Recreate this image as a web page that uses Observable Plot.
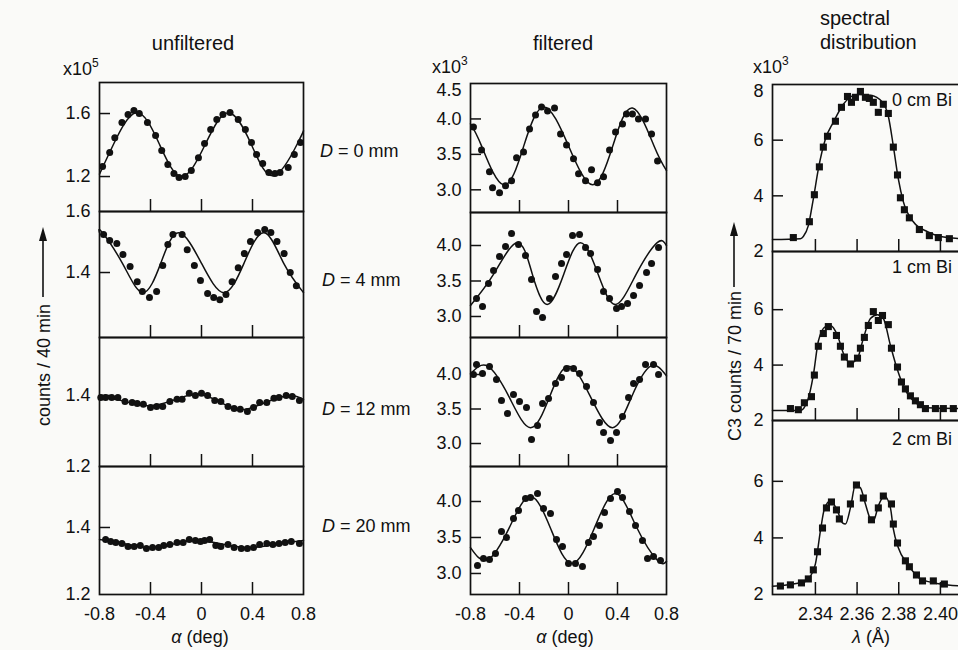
<!DOCTYPE html>
<html>
<head>
<meta charset="utf-8">
<script src="https://cdn.jsdelivr.net/npm/d3@7"></script>
<script src="https://cdn.jsdelivr.net/npm/@observablehq/plot@0.6"></script>
<style>
  html, body { margin: 0; padding: 0; background: #fafaf8; overflow: hidden; }
  #fig { position: relative; width: 958px; height: 650px; overflow: hidden; background: #fafaf8; }
  #fig svg { overflow: visible; }
</style>
</head>
<body>
<div id="fig"></div>
<script>
// ---- axis ticks ----
const alphaTicks = [-0.4, 0, 0.4];
const alphaLabels = [-0.8, -0.4, 0, 0.4, 0.8];
const lambdaTicks = [2.34, 2.36, 2.38, 2.40];

// ---- panel captions ----
const distances = ["0", "4", "12", "20"];          // D in mm
const bismuth = ["0 cm Bi", "1 cm Bi", "2 cm Bi"];

// ---- unfiltered counts (x10^5) vs alpha (deg): measured points ----
const unfiltered0 = [[-0.776,1.263],[-0.72,1.352],[-0.68,1.447],[-0.624,1.543],[-0.576,1.594],[-0.53,1.62],[-0.488,1.60],[-0.424,1.543],[-0.36,1.46],[-0.312,1.365],[-0.264,1.276],[-0.216,1.219],[-0.176,1.194],[-0.128,1.20],[-0.08,1.238],[-0.024,1.32],[0.024,1.41],[0.072,1.498],[0.12,1.562],[0.168,1.594],[0.224,1.606],[0.288,1.562],[0.344,1.498],[0.392,1.416],[0.432,1.34],[0.48,1.283],[0.528,1.225],[0.576,1.219],[0.616,1.225],[0.68,1.257],[0.728,1.34],[0.776,1.416]];
const unfiltered4 = [[-0.768,1.525],[-0.72,1.505],[-0.664,1.495],[-0.616,1.459],[-0.56,1.42],[-0.504,1.37],[-0.464,1.338],[-0.408,1.318],[-0.352,1.338],[-0.304,1.423],[-0.264,1.492],[-0.224,1.525],[-0.152,1.525],[-0.112,1.475],[-0.056,1.423],[-0.008,1.374],[0.048,1.331],[0.096,1.318],[0.144,1.311],[0.192,1.328],[0.24,1.37],[0.288,1.416],[0.336,1.462],[0.384,1.502],[0.44,1.531],[0.496,1.541],[0.544,1.531],[0.592,1.502],[0.648,1.462],[0.696,1.40],[0.744,1.357]];
const unfiltered12 = [[-0.79,1.394],[-0.752,1.394],[-0.704,1.394],[-0.656,1.394],[-0.6,1.383],[-0.544,1.38],[-0.504,1.377],[-0.456,1.375],[-0.4,1.366],[-0.352,1.369],[-0.304,1.369],[-0.248,1.383],[-0.192,1.389],[-0.152,1.389],[-0.096,1.406],[-0.048,1.40],[0.0,1.406],[0.048,1.40],[0.104,1.386],[0.152,1.383],[0.208,1.369],[0.256,1.363],[0.304,1.361],[0.36,1.355],[0.408,1.366],[0.456,1.38],[0.512,1.38],[0.568,1.392],[0.608,1.394],[0.664,1.40],[0.712,1.397],[0.768,1.386]];
const unfiltered20 = [[-0.752,1.364],[-0.712,1.358],[-0.672,1.355],[-0.624,1.352],[-0.576,1.343],[-0.528,1.343],[-0.48,1.346],[-0.432,1.337],[-0.384,1.34],[-0.336,1.34],[-0.296,1.346],[-0.248,1.349],[-0.192,1.355],[-0.144,1.355],[-0.096,1.364],[-0.048,1.361],[-0.008,1.358],[0.024,1.361],[0.064,1.364],[0.112,1.346],[0.152,1.343],[0.208,1.349],[0.256,1.34],[0.312,1.337],[0.36,1.337],[0.408,1.34],[0.456,1.349],[0.512,1.352],[0.56,1.349],[0.608,1.352],[0.656,1.355],[0.704,1.358],[0.768,1.352]];

// ---- unfiltered fitted curves ----
const unfilteredFit0 = [[-0.8,1.215],[-0.69,1.405],[-0.51,1.605],[-0.33,1.405],[-0.155,1.20],[0.03,1.405],[0.21,1.605],[0.39,1.405],[0.565,1.205],[0.75,1.405],[0.8,1.49]];
const unfilteredFit4 = [[-0.8,1.531],[-0.78,1.532],[-0.62,1.43],[-0.46,1.334],[-0.32,1.43],[-0.18,1.53],[0.0,1.43],[0.176,1.334],[0.333,1.43],[0.49,1.53],[0.645,1.43],[0.8,1.334]];
const unfilteredFit12 = [[-0.8,1.396],[-0.61,1.384],[-0.41,1.371],[-0.21,1.388],[-0.03,1.403],[0.14,1.382],[0.31,1.36],[0.5,1.38],[0.688,1.40],[0.8,1.389]];
const unfilteredFit20 = [[-0.8,1.364],[-0.61,1.352],[-0.41,1.34],[-0.22,1.351],[-0.03,1.361],[0.17,1.35],[0.38,1.34],[0.6,1.351],[0.8,1.361]];

// ---- filtered counts (x10^3) vs alpha (deg): measured points ----
const filtered0 = [[-0.776,3.887],[-0.71,3.563],[-0.645,3.254],[-0.62,3.028],[-0.563,2.958],[-0.514,3.056],[-0.465,3.127],[-0.424,3.451],[-0.367,3.535],[-0.318,3.859],[-0.269,4.056],[-0.22,4.169],[-0.171,4.113],[-0.114,4.155],[-0.065,3.789],[-0.016,3.634],[0.041,3.437],[0.082,3.225],[0.139,3.127],[0.188,3.282],[0.237,3.099],[0.286,3.183],[0.335,3.563],[0.384,3.817],[0.441,3.93],[0.473,4.07],[0.522,4.07],[0.571,4.0],[0.629,4.0],[0.678,3.789],[0.727,3.408]];
const filtered4 = [[-0.751,3.254],[-0.702,3.141],[-0.653,3.465],[-0.612,3.648],[-0.563,3.845],[-0.514,3.986],[-0.465,4.169],[-0.408,4.014],[-0.351,3.859],[-0.302,3.521],[-0.261,3.07],[-0.212,2.986],[-0.155,3.254],[-0.106,3.563],[-0.057,3.746],[-0.016,3.873],[0.033,4.141],[0.09,4.155],[0.139,3.972],[0.18,3.887],[0.237,3.662],[0.286,3.352],[0.335,3.254],[0.392,3.113],[0.433,3.141],[0.482,3.183],[0.531,3.296],[0.58,3.437],[0.637,3.62],[0.678,3.746],[0.735,3.972]];
const filtered12 = [[-0.776,4.0],[-0.751,4.145],[-0.702,4.014],[-0.645,4.116],[-0.588,3.928],[-0.547,3.623],[-0.498,3.435],[-0.449,3.71],[-0.4,3.609],[-0.343,3.522],[-0.302,3.058],[-0.253,3.261],[-0.212,3.58],[-0.163,3.652],[-0.106,3.87],[-0.057,3.957],[-0.016,4.087],[0.041,4.087],[0.09,4.014],[0.147,3.826],[0.204,3.594],[0.253,3.304],[0.286,3.159],[0.343,3.043],[0.392,3.159],[0.441,3.391],[0.49,3.667],[0.531,3.87],[0.58,3.928],[0.629,4.145],[0.694,4.145],[0.735,4.0]];
const filtered20 = [[-0.743,3.111],[-0.694,3.208],[-0.645,3.194],[-0.596,3.278],[-0.547,3.583],[-0.506,3.5],[-0.449,3.764],[-0.408,3.875],[-0.351,4.042],[-0.31,4.056],[-0.253,4.111],[-0.204,3.903],[-0.147,3.833],[-0.098,3.472],[-0.049,3.375],[0.0,3.139],[0.057,3.139],[0.114,3.097],[0.163,3.431],[0.204,3.514],[0.253,3.667],[0.294,3.847],[0.343,4.042],[0.4,4.139],[0.441,4.056],[0.498,3.861],[0.547,3.667],[0.604,3.458],[0.645,3.208],[0.694,3.236],[0.751,3.181]];

// ---- filtered fitted curves ----
const filteredFit0 = [[-0.8,3.93],[-0.71,3.62],[-0.53,3.07],[-0.365,3.62],[-0.2,4.17],[0.0,3.62],[0.196,3.07],[0.36,3.61],[0.522,4.155],[0.7,3.61],[0.8,3.27]];
const filteredFit4 = [[-0.8,3.155],[-0.61,3.6],[-0.419,4.04],[-0.296,3.6],[-0.174,3.17],[-0.038,3.6],[0.098,4.04],[0.241,3.6],[0.384,3.17],[0.554,3.6],[0.724,4.04],[0.8,4.0]];
const filteredFit12 = [[-0.8,4.01],[-0.66,4.12],[-0.485,3.675],[-0.31,3.23],[-0.155,3.675],[0.0,4.12],[0.18,3.675],[0.36,3.23],[0.515,3.675],[0.67,4.12],[0.8,3.98]];
const filteredFit20 = [[-0.8,3.36],[-0.66,3.19],[-0.485,3.63],[-0.31,4.07],[-0.14,3.6],[0.03,3.14],[0.21,3.625],[0.384,4.11],[0.555,3.645],[0.727,3.18],[0.8,3.17]];

// ---- spectral distribution: C3 counts (x10^3) vs lambda (Å) ----
const spectrum0 = [[2.3294,2.5],[2.3371,3.07],[2.3395,4.04],[2.3419,5.04],[2.3438,5.75],[2.3458,6.14],[2.3496,6.68],[2.3525,7.18],[2.3554,7.57],[2.3573,7.36],[2.3592,7.54],[2.3616,7.75],[2.364,7.54],[2.3659,7.5],[2.3678,7.36],[2.3702,7.0],[2.3726,7.29],[2.375,6.96],[2.3774,5.75],[2.3794,4.75],[2.3808,3.93],[2.3827,3.5],[2.3851,3.21],[2.3899,2.79],[2.3947,2.57],[2.399,2.5],[2.4043,2.46]];
const spectrum1 = [[2.328,2.43],[2.3318,2.39],[2.3347,2.64],[2.3381,2.86],[2.3395,3.64],[2.3414,4.68],[2.3438,5.14],[2.3462,5.39],[2.3501,5.07],[2.352,4.68],[2.3539,4.29],[2.3568,4.04],[2.3602,4.25],[2.3616,4.61],[2.3635,5.0],[2.3654,5.43],[2.3678,5.93],[2.3702,5.61],[2.3722,5.79],[2.375,5.46],[2.3765,4.61],[2.3794,3.93],[2.3813,3.39],[2.3832,3.14],[2.3856,2.89],[2.388,2.71],[2.3904,2.57],[2.3928,2.43],[2.3976,2.43],[2.4014,2.43],[2.4062,2.43]];
const spectrum2 = [[2.3232,2.30],[2.328,2.34],[2.3333,2.41],[2.3366,2.55],[2.339,2.87],[2.341,3.51],[2.3434,4.35],[2.3453,5.06],[2.3477,5.27],[2.3501,4.99],[2.3515,4.67],[2.3568,5.2],[2.3597,5.87],[2.363,5.41],[2.3669,4.64],[2.3702,5.06],[2.3726,5.48],[2.3765,5.2],[2.3774,4.49],[2.3794,3.82],[2.3832,3.19],[2.3851,2.98],[2.3885,2.69],[2.3914,2.48],[2.3966,2.48],[2.4019,2.37]];

const spectrumFit0 = [[2.3194,2.43],[2.3328,2.46],[2.3342,2.54],[2.3366,2.93],[2.339,3.89],[2.3414,4.96],[2.3448,6.04],[2.3486,6.64],[2.3534,7.29],[2.3602,7.64],[2.3664,7.61],[2.3722,7.36],[2.375,6.86],[2.3774,5.79],[2.3798,4.61],[2.3822,3.79],[2.387,3.07],[2.3938,2.71],[2.40,2.54],[2.4106,2.46]];
const spectrumFit1 = [[2.3194,2.36],[2.3328,2.36],[2.3362,2.71],[2.339,3.64],[2.3414,4.86],[2.3448,5.39],[2.3472,5.43],[2.3506,5.07],[2.3534,4.43],[2.3568,4.07],[2.3602,4.25],[2.363,4.96],[2.3664,5.68],[2.3698,5.82],[2.3726,5.68],[2.376,4.71],[2.3794,3.82],[2.3822,3.25],[2.387,2.71],[2.3938,2.46],[2.4106,2.43]];
const spectrumFit2 = [[2.3194,2.29],[2.3352,2.46],[2.3366,2.55],[2.34,3.08],[2.3424,4.25],[2.3443,5.02],[2.3472,5.31],[2.3506,4.95],[2.353,4.53],[2.3544,4.49],[2.3568,5.06],[2.3592,5.87],[2.3616,5.77],[2.364,5.2],[2.3664,4.67],[2.3678,4.6],[2.3702,5.13],[2.3731,5.48],[2.376,5.06],[2.3774,4.32],[2.3798,3.65],[2.3842,3.08],[2.3904,2.55],[2.40,2.37],[2.4106,2.3]];

// ---- drawing ----
const FONT = '"Liberation Sans", Arial, Helvetica, sans-serif';
const INK = "#111";
const fig = document.getElementById("fig");
const f1 = d3.format(".1f"), f2 = d3.format(".2f");

function drawPanel(o) {
  const {left, top, width, height} = o.box;
  const marks = [
    Plot.ruleX(o.xTicks, {insetTop: height - 12, stroke: INK, strokeWidth: 1.5}),
    Plot.ruleY(o.yTicks, {insetRight: width - 11, stroke: INK, strokeWidth: 1.5}),
    Plot.line(o.fit, {x: d => d[0], y: d => d[1], curve: o.curve, stroke: INK, strokeWidth: 1.5}),
    Plot.dot(o.points, {x: d => d[0], y: d => d[1], r: o.r, symbol: o.symbol, fill: INK, stroke: "none"}),
    Plot.frame({stroke: INK, strokeWidth: 1.7})
  ];
  // the label at the very top of a scale sits a little below the frame edge
  if (o.topLabel != null) {
    marks.push(Plot.text([o.topLabel], {y: d => d, frameAnchor: "left", dx: -9, dy: 7, textAnchor: "end", text: o.yFormat, fill: INK}));
  }
  const svg = Plot.plot({
    width, height,
    marginTop: 0, marginRight: 0, marginBottom: 0, marginLeft: 0,
    style: {background: "transparent", overflow: "visible", fontFamily: FONT, fontSize: "18px", color: INK},
    x: {domain: o.xDomain, axis: o.xLabels ? "bottom" : null, ticks: o.xLabels || [], tickSize: 0, tickPadding: 13, tickFormat: o.xFormat, label: null},
    y: {domain: o.yDomain, axis: "left", ticks: o.yLabels, tickSize: 0, tickPadding: 9, tickFormat: o.yFormat, label: null},
    marks
  });
  Object.assign(svg.style, {position: "absolute", left: left + "px", top: top + "px"});
  fig.appendChild(svg);
}

// unfiltered column
const unfilteredPanels = [
  {box: {left: 99, top: 82, width: 204, height: 129}, yDomain: [0.978, 1.797], yLabels: [1.6, 1.2], yTicks: [1.6, 1.2], points: unfiltered0, fit: unfilteredFit0},
  {box: {left: 99, top: 211, width: 204, height: 126}, yDomain: [1.187, 1.6], yLabels: [1.6, 1.4], yTicks: [1.4], points: unfiltered4, fit: unfilteredFit4},
  {box: {left: 99, top: 337, width: 204, height: 129}, yDomain: [1.2, 1.563], yLabels: [1.4, 1.2], yTicks: [1.4], points: unfiltered12, fit: unfilteredFit12},
  {box: {left: 99, top: 466, width: 204, height: 128}, yDomain: [1.2, 1.582], yLabels: [1.4, 1.2], yTicks: [1.4], points: unfiltered20, fit: unfilteredFit20, xLabels: alphaLabels}
];
// filtered column
const filteredPanels = [
  {box: {left: 470, top: 83, width: 196, height: 129}, yDomain: [2.68, 4.5], yLabels: [4.0, 3.5, 3.0], topLabel: 4.5, points: filtered0, fit: filteredFit0},
  {box: {left: 470, top: 212, width: 196, height: 125}, yDomain: [2.704, 4.465], yLabels: [4.0, 3.5, 3.0], points: filtered4, fit: filteredFit4},
  {box: {left: 470, top: 337, width: 196, height: 129}, yDomain: [2.667, 4.536], yLabels: [4.0, 3.5, 3.0], points: filtered12, fit: filteredFit12},
  {box: {left: 470, top: 466, width: 196, height: 128}, yDomain: [2.708, 4.486], yLabels: [4.0, 3.5, 3.0], points: filtered20, fit: filteredFit20, xLabels: alphaLabels}
];
for (const p of [...unfilteredPanels, ...filteredPanels]) {
  drawPanel({
    ...p,
    yTicks: p.yTicks || [4.0, 3.5, 3.0],
    xDomain: [-0.8, 0.8], xTicks: alphaTicks,
    xFormat: d => String(d), yFormat: f1,
    curve: "natural", r: 3.5, symbol: "circle"
  });
}
// spectral column
const spectralPanels = [
  {box: {left: 772, top: 84, width: 190, height: 167}, yDomain: [2, 8], yLabels: [6, 4, 2], topLabel: 8, points: spectrum0, fit: spectrumFit0},
  {box: {left: 772, top: 251, width: 190, height: 169}, yDomain: [2, 8.1], yLabels: [6, 4, 2], points: spectrum1, fit: spectrumFit1},
  {box: {left: 772, top: 420, width: 190, height: 174}, yDomain: [2, 8.15], yLabels: [6, 4, 2], points: spectrum2, fit: spectrumFit2, xLabels: lambdaTicks}
];
for (const p of spectralPanels) {
  drawPanel({
    ...p,
    yTicks: [6, 4],
    xDomain: [2.3194, 2.4106], xTicks: lambdaTicks,
    xFormat: f2, yFormat: d => String(d),
    curve: "monotone-x", r: 4, symbol: "square"
  });
}

// ---- titles, captions and axis names ----
const ov = d3.select(fig).append("svg")
  .attr("width", 958).attr("height", 650)
  .style("position", "absolute").style("left", 0).style("top", 0)
  .attr("font-family", FONT).attr("fill", INK);

function label(x, y, text, size = 18, anchor = "start") {
  return ov.append("text").attr("x", x).attr("y", y).attr("font-size", size)
    .attr("text-anchor", anchor).text(text);
}
label(193, 50, "unfiltered", 20, "middle");
label(563, 50, "filtered", 20, "middle");
label(820, 25, "spectral", 20);
label(820, 49, "distribution", 20);

function power(x, y, exp) {
  const t = ov.append("text").attr("x", x).attr("y", y).attr("font-size", 18);
  t.append("tspan").text("x10");
  t.append("tspan").attr("dy", -8).attr("font-size", 12).text(exp);
}
power(63, 75, "5");
power(432, 73, "3");
power(753, 73, "3");

// D captions between the columns
const captionY = [157, 286, 415, 532];
distances.forEach((d, i) => {
  const t = ov.append("text").attr("x", i === 0 ? 320 : 322).attr("y", captionY[i]).attr("font-size", 18);
  t.append("tspan").attr("font-style", "italic").text("D");
  t.append("tspan").text(` = ${d} mm`);
});

// filter thickness captions
const bismuthY = [106, 273, 445];
bismuth.forEach((b, i) => label(892, bismuthY[i], b, 18));

// x axis names
function axisName(x, y, sym, unit) {
  const t = ov.append("text").attr("x", x).attr("y", y).attr("font-size", 18).attr("text-anchor", "middle");
  t.append("tspan").attr("font-style", "italic").text(sym);
  t.append("tspan").text(" " + unit);
}
axisName(200, 643, "α", "(deg)");
axisName(565, 643, "α", "(deg)");
axisName(871, 643, "λ", "(Å)");

// y axis names with upward arrows
function yName(x, cy, text, lineFrom, lineTo) {
  ov.append("text").attr("transform", `translate(${x},${cy}) rotate(-90)`)
    .attr("font-size", 18).attr("text-anchor", "middle").text(text);
  const ax = x - 7;
  ov.append("line").attr("x1", ax).attr("x2", ax).attr("y1", lineFrom).attr("y2", lineTo + 10)
    .attr("stroke", INK).attr("stroke-width", 1.6);
  ov.append("path").attr("d", `M${ax},${lineTo} L${ax - 4},${lineTo + 14} L${ax + 4},${lineTo + 14} Z`).attr("fill", INK);
}
yName(50, 365, "counts / 40 min", 297, 227);
yName(741, 366, "C3 counts / 70 min", 287, 222);
</script>
</body>
</html>
